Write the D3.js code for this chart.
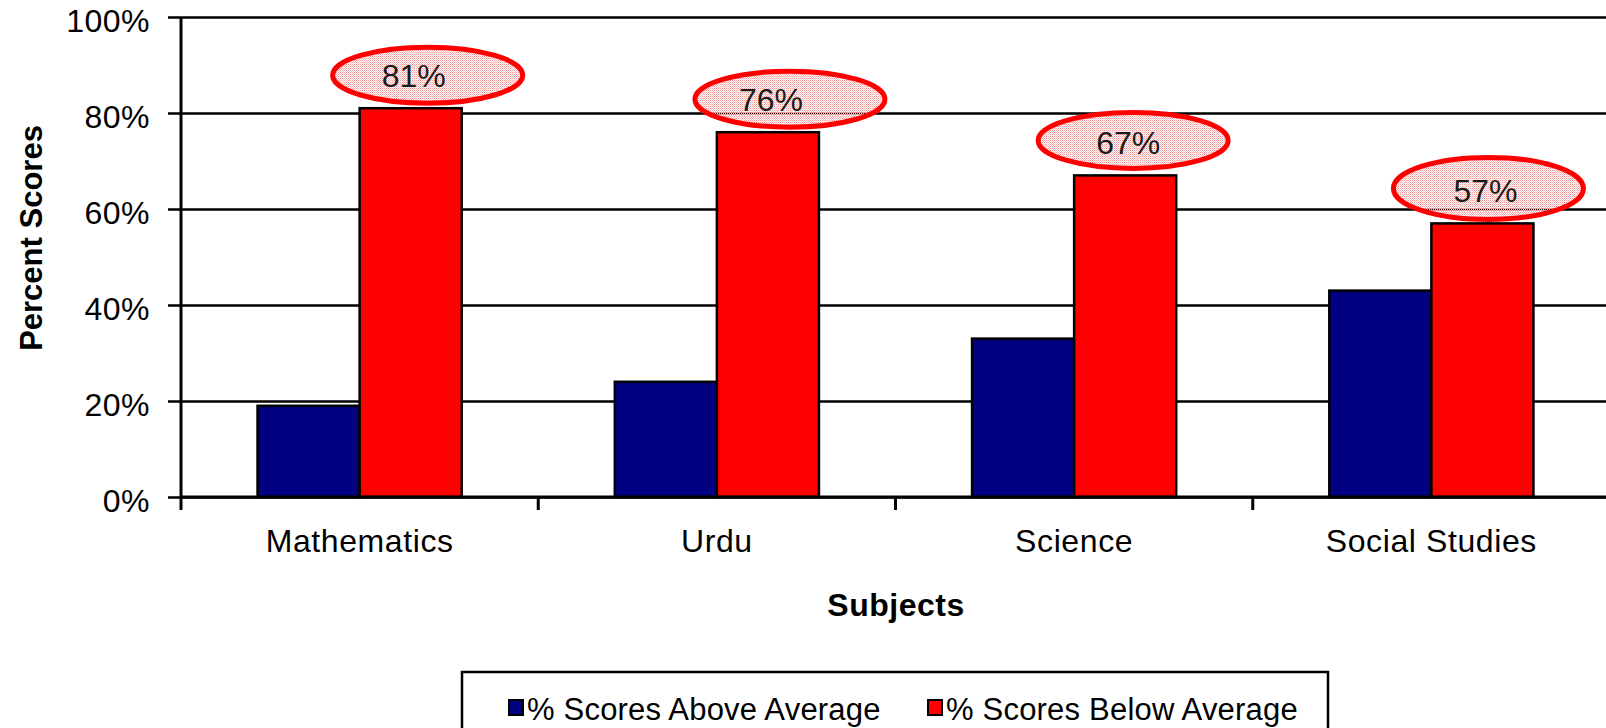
<!DOCTYPE html>
<html>
<head>
<meta charset="utf-8">
<script src="https://cdn.jsdelivr.net/npm/d3@7"></script>
<style>
  html, body { margin: 0; padding: 0; background: #fff; overflow: hidden }
  svg { display: block; font-family: 'Liberation Sans', Arial, sans-serif }
</style>
</head>
<body>
<svg id="chart" width="1606" height="728"></svg>
<script>
const subjects = ['Mathematics', 'Urdu', 'Science', 'Social Studies']
const seriesNames = ['% Scores Above Average', '% Scores Below Average']
const aboveAverage = [0.19, 0.24, 0.33, 0.43]
const belowAverage = [0.81, 0.76, 0.67, 0.57]
const yTickValues = [0, 0.2, 0.4, 0.6, 0.8, 1]

// hand placed callout ellipses round the below-average labels (px offsets from bar top centre)
const calloutDx = [17, 22, 8, 6]
const calloutDy = [-33, -33, -35, -35]
const calloutRy = [28, 28, 28, 31]

const colors = ['#000080', '#ff0000']
const props = { left: 181, right: 1610, top: 17, bottom: 497 }

const svg = d3.select('#chart')

const defs = svg.append('defs')
const dots = defs.append('pattern')
  .attr('id', 'pinkDots')
  .attr('patternUnits', 'userSpaceOnUse')
  .attr('width', 2)
  .attr('height', 2)
dots.append('rect').attr('x', 0).attr('y', 0).attr('width', 1).attr('height', 1).attr('fill', '#f29a9a')
dots.append('rect').attr('x', 1).attr('y', 1).attr('width', 1).attr('height', 1).attr('fill', '#f8c8c8')
dots.append('rect').attr('x', 1).attr('y', 0).attr('width', 1).attr('height', 1).attr('fill', '#fdf0f0').attr('opacity', 0.6)

const xScale = d3.scaleBand()
  .domain(subjects)
  .range([props.left, props.right])

const xSub = d3.scaleBand()
  .domain(seriesNames)
  .range([0, xScale.bandwidth()])
  .paddingOuter(0.75)

const yScale = d3.scaleLinear()
  .domain([0, 1])
  .range([props.bottom, props.top])

// gridlines + y ticks
const yAxis = d3.axisLeft(yScale)
  .tickValues(yTickValues)
  .tickSize(13)
  .tickPadding(18)
  .tickFormat(d3.format('.0%'))

const gy = svg.append('g')
  .attr('transform', `translate(${props.left},0)`)
  .call(yAxis)
gy.select('.domain').remove()
gy.selectAll('.tick line')
  .attr('x1', -13)
  .attr('x2', props.right - props.left)
  .attr('stroke', '#000')
  .attr('stroke-width', 2.5)
gy.selectAll('.tick text')
  .attr('dy', '0.45em')
  .style('font-size', '32px')
  .style('letter-spacing', '0.5px')
  .attr('fill', '#000')

// bars
const rows = subjects.map((s, i) => ({ subject: s, values: [aboveAverage[i], belowAverage[i]] }))

const groups = svg.append('g')
  .selectAll('g')
  .data(rows)
  .join('g')
  .attr('transform', d => `translate(${xScale(d.subject)},0)`)

groups.selectAll('rect')
  .data(d => d.values.map((v, k) => ({ key: seriesNames[k], value: v, k })))
  .join('rect')
  .attr('x', d => xSub(d.key))
  .attr('y', d => yScale(d.value))
  .attr('width', xSub.bandwidth())
  .attr('height', d => yScale(0) - yScale(d.value))
  .attr('fill', d => colors[d.k])
  .attr('stroke', '#000')
  .attr('stroke-width', 2.5)

// y axis line
svg.append('line')
  .attr('x1', props.left).attr('x2', props.left)
  .attr('y1', props.top).attr('y2', props.bottom)
  .attr('stroke', '#000').attr('stroke-width', 3)

// x axis
const xAxis = d3.axisBottom(xScale).tickSize(0).tickPadding(40)
const gx = svg.append('g')
  .attr('transform', `translate(0,${props.bottom})`)
  .call(xAxis)
gx.select('.domain')
  .attr('d', `M${props.left},0H${props.right}`)
  .attr('stroke', '#000')
  .attr('stroke-width', 3)
gx.selectAll('.tick text')
  .attr('dy', '0.47em')
  .style('font-size', '32px')
  .style('letter-spacing', '0.6px')
  .attr('fill', '#000')

const boundaries = subjects.map(s => xScale(s)).concat([xScale.range()[1]])
gx.selectAll('.boundary')
  .data(boundaries)
  .join('line')
  .attr('class', 'boundary')
  .attr('x1', d => d).attr('x2', d => d)
  .attr('y1', 0).attr('y2', 13)
  .attr('stroke', '#000')
  .attr('stroke-width', 3)

// callouts
const labelX = i => xScale(subjects[i]) + xSub(seriesNames[1]) + xSub.bandwidth() / 2

svg.append('g')
  .selectAll('ellipse')
  .data(belowAverage)
  .join('ellipse')
  .attr('cx', (d, i) => labelX(i) + calloutDx[i])
  .attr('cy', (d, i) => yScale(d) + calloutDy[i])
  .attr('rx', 95)
  .attr('ry', (d, i) => calloutRy[i])
  .attr('fill', 'url(#pinkDots)')
  .attr('stroke', '#ff0000')
  .attr('stroke-width', 5)

svg.append('g')
  .selectAll('text')
  .data(belowAverage)
  .join('text')
  .attr('x', (d, i) => labelX(i) + 3)
  .attr('y', d => yScale(d) - 21)
  .attr('text-anchor', 'middle')
  .style('font-size', '32px')
  .attr('fill', '#1a1a1a')
  .text(d => d3.format('.0%')(d))

// axis titles
svg.append('text')
  .attr('transform', 'translate(42,238) rotate(-90)')
  .attr('text-anchor', 'middle')
  .style('font-size', '31px')
  .style('font-weight', 'bold')
  .text('Percent Scores')

svg.append('text')
  .attr('x', 896)
  .attr('y', 616)
  .attr('text-anchor', 'middle')
  .style('font-size', '32px')
  .style('font-weight', 'bold')
  .style('letter-spacing', '0.5px')
  .text('Subjects')

// legend
const legend = svg.append('g')
legend.append('rect')
  .attr('x', 462).attr('y', 672)
  .attr('width', 866).attr('height', 120)
  .attr('fill', '#fff')
  .attr('stroke', '#000')
  .attr('stroke-width', 2.5)

const legendX = [509, 928]
const items = legend.selectAll('.item')
  .data(seriesNames)
  .join('g')
  .attr('class', 'item')
  .attr('transform', (d, i) => `translate(${legendX[i]},0)`)
items.append('rect')
  .attr('x', 0).attr('y', 700)
  .attr('width', 14).attr('height', 15)
  .attr('fill', (d, i) => colors[i])
  .attr('stroke', '#000')
  .attr('stroke-width', 2)
items.append('text')
  .attr('x', 18).attr('y', 720)
  .style('font-size', '31px')
  .style('letter-spacing', '0.2px')
  .text(d => d)
</script>
</body>
</html>
